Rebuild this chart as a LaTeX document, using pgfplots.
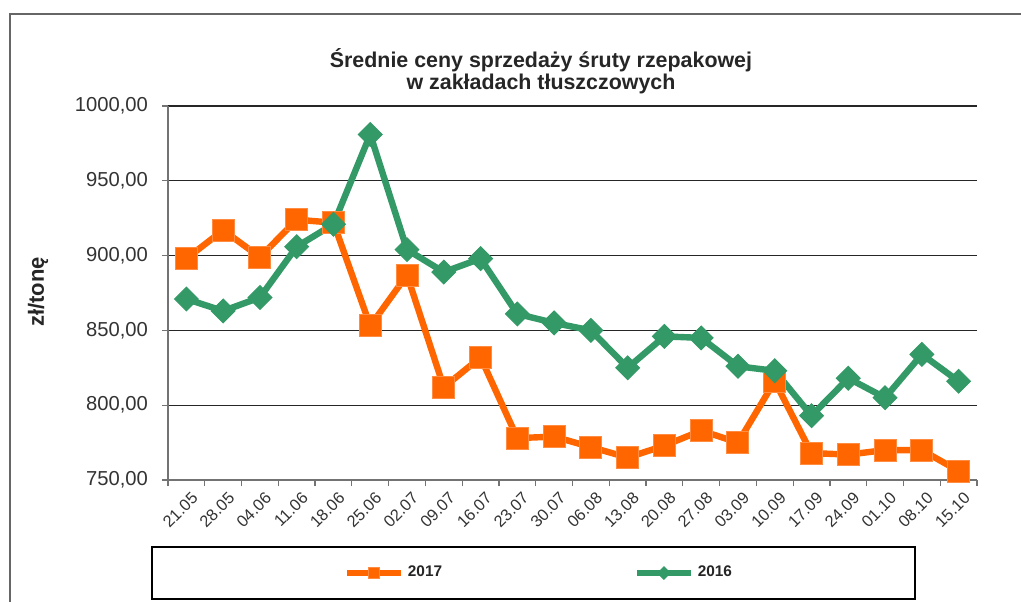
\documentclass[border=0pt]{standalone}
\usepackage{fontspec}
\setmainfont{Liberation Sans}
\usepackage{pgfplots}
\pgfplotsset{compat=1.18}
\definecolor{corange}{RGB}{255,102,0}
\definecolor{cgreen}{RGB}{51,153,102}
\begin{document}
\begin{tikzpicture}
\useasboundingbox (0,0) rectangle (510.5pt,300.5pt);
\draw[black!60, line width=0.9pt] (5pt,-1pt) -- (5pt,293.5pt) -- (512pt,293.5pt);
\node[font=\fontsize{10.7}{11}\selectfont\bfseries, align=center, text=black!85] at (270.5pt,265pt) {Średnie ceny sprzedaży śruty rzepakowej\\w zakładach tłuszczowych};
\node[rotate=90, font=\fontsize{11}{13}\selectfont\bfseries, text=black!85] at (19pt,154.5pt) {zł/tonę};
\draw[black, line width=0.6pt] (76pt,1pt) rectangle (457.5pt,27pt);
\begin{axis}[
  at={(84pt,60.5pt)}, anchor=south west,
  scale only axis, width=404.5pt, height=187pt,
  xmin=-0.5, xmax=21.5, ymin=750, ymax=1000,
  axis lines*=left,
  axis line style={black!55, line width=0.8pt},
  tick align=outside, major tick length=3pt,
  tick style={black!55, line width=0.6pt},
  ytick={750,800,...,1000},
  ymajorgrids, grid style={black!85, line width=0.6pt},
  yticklabel style={font=\fontsize{10.1}{12}\selectfont, text=black!80, xshift=-3.5pt,
    /pgf/number format/fixed, /pgf/number format/fixed zerofill,
    /pgf/number format/precision=2, /pgf/number format/use comma,
    /pgf/number format/1000 sep={}, /pgf/number format/assume math mode=true},
  xtick={-0.5,0.5,...,21.5}, xticklabel=\empty,
  extra x ticks={0,...,21},
  extra x tick labels={21.05,28.05,04.06,11.06,18.06,25.06,02.07,09.07,16.07,23.07,30.07,06.08,13.08,20.08,27.08,03.09,10.09,17.09,24.09,01.10,08.10,15.10},
  extra x tick style={major tick length=0pt, grid=none,
    xticklabel style={rotate=45, anchor=north east, yshift=-2pt, xshift=1pt, font=\fontsize{8.2}{9}\selectfont, text=black!80}},
  legend columns=2,
  legend style={at={(0.46,-0.2487)}, anchor=center, draw=none, fill=none,
    font=\fontsize{7.7}{9}\selectfont\bfseries, text=black!85,
    /tikz/every even column/.append style={column sep=94pt}},
  legend image code/.code={\draw[#1, mark repeat=2, mark phase=2] plot coordinates {(0pt,0pt) (13.5pt,0pt) (27pt,0pt)};},
]
\addplot[corange, line width=3.2pt, mark=square*, mark size=5.5pt,
  mark options={fill=corange, draw=corange!75!white, line width=0.5pt},
  legend image post style={mark size=2.8pt, line width=2.8pt}]
  coordinates {(0,898) (1,917) (2,899) (3,924) (4,922) (5,853) (6,887) (7,812) (8,832) (9,778) (10,779) (11,772) (12,765) (13,773) (14,783) (15,775) (16,816) (17,768) (18,767) (19,770) (20,770) (21,756)};
\addlegendentry{2017}
\addplot[cgreen, line width=3.2pt, mark=square*, mark size=4.2pt,
  mark options={fill=cgreen, draw=cgreen, line width=0.5pt, rotate=45},
  legend image post style={mark size=2.2pt, line width=2.8pt}]
  coordinates {(0,871) (1,863) (2,872) (3,906) (4,921) (5,981) (6,904) (7,889) (8,898) (9,861) (10,855) (11,850) (12,825) (13,846) (14,845) (15,826) (16,823) (17,793) (18,818) (19,805) (20,834) (21,816)};
\addlegendentry{2016}
\end{axis}
\end{tikzpicture}
\end{document}
